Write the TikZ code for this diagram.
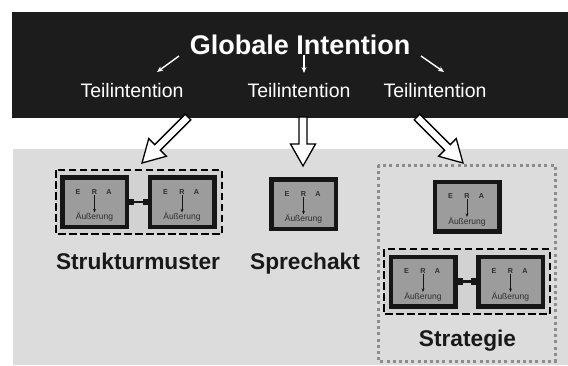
\documentclass[tikz,border=0pt]{standalone}
\usepackage{fontspec}
\setmainfont{Liberation Sans}
\usetikzlibrary{arrows.meta,calc}
\definecolor{topbg}{HTML}{1C1C1C}
\definecolor{lowbg}{HTML}{DCDCDC}
\definecolor{boxfill}{HTML}{9C9C9C}
\definecolor{boxline}{HTML}{161616}
\definecolor{boxtext}{HTML}{2E2E2E}
\definecolor{dotgray}{HTML}{8C8C8C}
\definecolor{grpfill}{HTML}{D2D2D2}
\newcommand\hollowarr[2]{%
  \draw[bigarrow] let \p1=($(#2)-(#1)$), \n1={atan2(\y1,\x1)},
      \n2={veclen(\x1,\y1)}, \n3={veclen(\x1,\y1)-22} in
    [shift={(#1)}, rotate=\n1]
    (0pt,-4pt) -- (\n3,-4pt) -- (\n3,-12.5pt) -- (\n2,0pt)
    -- (\n3,12.5pt) -- (\n3,4pt) -- (0pt,4pt) -- cycle;}
\begin{document}
\begin{tikzpicture}[x=1pt,y=-1pt,
  title/.style={text=white,font=\fontsize{27}{30}\selectfont\bfseries,inner sep=0pt},
  teil/.style={text=white,font=\fontsize{19.5}{22}\selectfont,inner sep=0pt},
  label/.style={text=black!90,font=\fontsize{22.7}{26}\selectfont\bfseries,inner sep=0pt},
  erabox/.style={draw=boxline,line width=4.5pt,fill=boxfill,minimum width=64.5pt,minimum height=49.5pt,inner sep=0pt},
  eraltr/.style={text=boxtext,font=\fontsize{7.2}{8}\selectfont\bfseries,inner sep=0pt},
  eraword/.style={text=boxtext,font=\fontsize{8.5}{9}\selectfont,inner sep=0pt},
  eraarrow/.style={draw=boxline,line width=0.8pt,-{Stealth[length=3.5pt,width=3pt]}},
  link/.style={draw=boxline,line width=2.5pt,{Square[length=5pt,width=6.5pt]}-{Square[length=5pt,width=6.5pt]}},
  grpdash/.style={draw=black,line width=2pt,dash pattern=on 7.5pt off 3.5pt,fill=grpfill},
  grpdot/.style={draw=dotgray,line width=3pt,dash pattern=on 3pt off 3.2pt},
  smallarr/.style={draw=white,line width=1.4pt,-{Stealth[length=6pt,width=5pt]}},
  bigarrow/.style={draw=black,line width=1.3pt,fill=white,line join=miter},
  pics/era/.style={code={
    \node[erabox] (-box) at (0,0) {};
    \node[eraltr] (-e) at (-16.5,-10) {E};
    \node[eraltr] (-r) at (0,-10) {R};
    \node[eraltr] (-a) at (14.5,-10) {A};
    \node[eraword] (-w) at (0,15) {Äußerung};
    \draw[eraarrow] (-r.south) -- (-w.north);
  }}
]
\useasboundingbox (0,0) rectangle (568,365);
% backgrounds
\fill[topbg] (12,12) rectangle (568,118);
\fill[lowbg] (13,149) rectangle (568,365);
% top texts
\node[title,anchor=base] (glob) at (300,54) {Globale Intention};
\node[teil,anchor=base] (t1) at (132,97) {Teilintention};
\node[teil,anchor=base] (t2) at (299,97) {Teilintention};
\node[teil,anchor=base] (t3) at (435,97) {Teilintention};
\coordinate (a1s) at (179,56); \coordinate (a1e) at (157,72);
\coordinate (a2s) at (304,55); \coordinate (a2e) at (304,73);
\coordinate (a3s) at (421,56); \coordinate (a3e) at (444,72);
\draw[smallarr] (a1s) -- (a1e);
\draw[smallarr] (a2s) -- (a2e);
\draw[smallarr] (a3s) -- (a3e);
% groups
\draw[grpdash] (56,170) rectangle (222,234);
\draw[grpdot] (378,165) rectangle (555,361);
\draw[grpdash] (384,249) rectangle (550,314);
% boxes
\pic (s1) at (94.5,202) {era};
\pic (s2) at (182,202) {era};
\pic (sp) at (303.5,204) {era};
\pic (g0) at (467,206.5) {era};
\pic (g1) at (423,281.5) {era};
\pic (g2) at (510.5,281.5) {era};
\draw[link] (s1-box.east) -- (s2-box.west);
\draw[link] (g1-box.east) -- (g2-box.west);
% labels
\node[label,anchor=base] (lstruct) at (138,269) {Strukturmuster};
\node[label,anchor=base] (lsprech) at (305,269) {Sprechakt};
\node[label,anchor=base] (lstrat) at (467.5,346) {Strategie};
% big hollow arrows
\coordinate (b1s) at (188,117); \coordinate (b1e) at (142,163);
\coordinate (b2s) at (303,117); \coordinate (b2e) at (303,166);
\coordinate (b3s) at (417,117); \coordinate (b3e) at (463,163);
\hollowarr{b1s}{b1e}
\hollowarr{b2s}{b2e}
\hollowarr{b3s}{b3e}
\end{tikzpicture}
\end{document}
